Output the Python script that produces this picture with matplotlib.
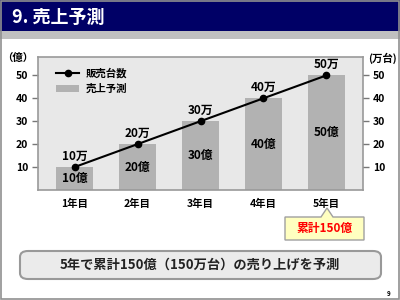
import matplotlib
matplotlib.use("Agg")
import matplotlib.pyplot as plt
from matplotlib.patches import Rectangle, FancyBboxPatch, Polygon, Patch
from matplotlib.lines import Line2D

plt.rcParams['font.family'] = ['Noto Sans CJK JP', 'DejaVu Sans']
plt.rcParams['font.weight'] = 'bold'

# データ
years = ["1年目", "2年目", "3年目", "4年目", "5年目"]
sales = [10, 20, 30, 40, 50]      # 売上予測（億）
units = [10, 20, 30, 40, 50]      # 販売台数（万台）
yticks = [10, 20, 30, 40, 50]

W, H = 400, 300
fig = plt.figure(figsize=(4, 3), dpi=100)


def fx(x):
    return x / W


def fy(y):
    return 1 - y / H


# タイトルバー
fig.patches.append(Rectangle((0, fy(31)), 1, 31 / H, transform=fig.transFigure,
                             facecolor="#000066", edgecolor="none", zorder=0))
fig.patches.append(Rectangle((0, fy(39)), 1, 8 / H, transform=fig.transFigure,
                             facecolor="#c0c0c0", edgecolor="none", zorder=0))
fig.patches.append(Rectangle((0.002, 0.003), 0.996, 0.994, transform=fig.transFigure,
                             facecolor="none", edgecolor="#909090", lw=1.2, zorder=0))
fig.text(fx(12), fy(17), "9. 売上予測", color="white", fontsize=13,
         fontweight="bold", va="center", ha="left")

# グラフ
ax = fig.add_axes([fx(38), fy(190), fx(363) - fx(38), (190 - 57) / H])
ax.set_facecolor("#e8e8e8")
x = range(len(years))
ax.bar(x, sales, width=0.6, color="#b2b2b2", zorder=2)
ax.plot(x, units, color="black", lw=1.5, marker="o", markersize=4.5, zorder=3)

for i, (s, u) in enumerate(zip(sales, units)):
    ax.text(i, s / 2, f"{s}億", ha="center", va="center", fontsize=8.5, zorder=4)
    ax.annotate(f"{u}万", (i, u), xytext=(0, 8), textcoords="offset points",
                ha="center", va="center", fontsize=8.5, zorder=4)

ax.set_xlim(-0.58, 4.58)
ax.set_ylim(0, 58)
ax.set_xticks(list(x))
ax.set_xticklabels(years)
ax.set_yticks(yticks)
ax.tick_params(axis="x", length=0, pad=6, labelsize=7.5)
ax.tick_params(axis="y", length=4, width=1, color="#777777", pad=3, labelsize=7.5)
for sp in ax.spines.values():
    sp.set_color("#999999")
    sp.set_linewidth(1.2)

ax2 = ax.twinx()
ax2.set_ylim(0, 58)
ax2.set_yticks(yticks)
ax2.tick_params(axis="y", length=4, width=1, color="#777777", pad=3, labelsize=7.5)
for sp in ax2.spines.values():
    sp.set_visible(False)

fig.text(fx(18), fy(58), "（億）", fontsize=7.5, ha="center", va="center")
fig.text(fx(382), fy(58), "(万台)", fontsize=7.5, ha="center", va="center")

handles = [Line2D([0], [0], color="black", lw=1.5, marker="o", markersize=4.5),
           Patch(facecolor="#b2b2b2", edgecolor="none")]
ax.legend(handles, ["販売台数", "売上予測"], loc="upper left", frameon=False,
          fontsize=7.5, handlelength=2.2, handletextpad=0.6, borderaxespad=0.4,
          labelspacing=0.5, bbox_to_anchor=(0.03, 0.98))

# 吹き出し
pts = [(285, 240), (285, 217), (321, 217), (327, 208), (333, 217),
       (364, 217), (364, 240)]
fig.patches.append(Polygon([(fx(a), fy(b)) for a, b in pts], closed=True,
                           transform=fig.transFigure, facecolor="#ffffc0",
                           edgecolor="#a0a0a0", lw=1))
fig.text(fx(324.5), fy(228.5), "累計150億", color="#ff0000", fontsize=8.5,
         ha="center", va="center")

# 下部ボックス
fig.patches.append(FancyBboxPatch((fx(20), fy(279)), fx(381) - fx(20), (279 - 251) / H,
                                  boxstyle="round,pad=0,rounding_size=0.02",
                                  transform=fig.transFigure, facecolor="#ebebeb",
                                  edgecolor="#999999", lw=1.5))
fig.text(0.5, fy(265), "5年で累計150億（150万台）の売り上げを予測", fontsize=9.5,
         ha="center", va="center", color="#222222")

fig.text(fx(389), fy(293), "9", fontsize=4.5, ha="center", va="center")

fig.savefig("out.png", dpi=100)
